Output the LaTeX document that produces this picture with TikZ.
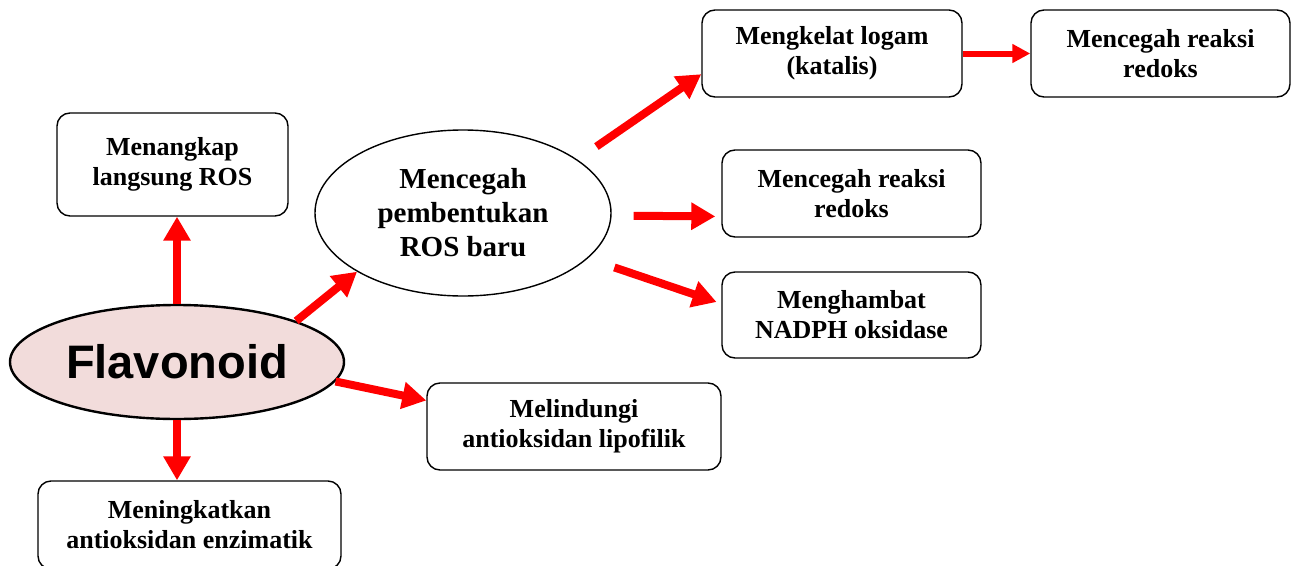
\documentclass[tikz,border=0pt]{standalone}
\usepackage{fontspec}
\setmainfont{Liberation Serif}
\newfontfamily\flfont{Liberation Sans}
\usetikzlibrary{shapes.geometric,arrows.meta}
\definecolor{flpink}{HTML}{F2DCDB}
\begin{document}
\begin{tikzpicture}[x=1pt,y=-1pt,
  box/.style={draw,line width=1.4pt,rounded corners=13pt,align=center,inner sep=0pt,
    font=\fontsize{26}{30}\selectfont\bfseries},
  redarrow/.style={draw=red,line width=8pt,-{Triangle[length=24pt,width=26pt]},red},
  smallarrow/.style={draw=red,line width=6pt,-{Triangle[length=18pt,width=18pt]},red},
]
\useasboundingbox (0,0) rectangle (1296,565);
% nodes
\node[draw,ellipse,line width=2.4pt,fill=flpink,minimum width=334pt,minimum height=114pt,
  inner sep=0pt,font=\flfont\fontsize{47}{50}\selectfont\bfseries] (fl) at (177,362) {Flavonoid};
\node[draw,ellipse,line width=1.4pt,minimum width=296pt,minimum height=166pt,inner sep=0pt,
  align=center,font=\fontsize{29}{34}\selectfont\bfseries] (ros) at (463,213)
  {Mencegah\\pembentukan\\ROS baru};
\node[box,minimum width=231pt,minimum height=103pt] (m1) at (172.5,164.5) {Menangkap\\langsung ROS};
\node[box,minimum width=303pt,minimum height=88pt] (m2) at (189.5,525) {Meningkatkan\\antioksidan enzimatik};
\node[box,minimum width=294pt,minimum height=87pt] (mel) at (574,426.5) {Melindungi\\antioksidan lipofilik};
\node[box,minimum width=260pt,minimum height=87pt] (mk) at (832,53.5) {Mengkelat logam\\(katalis)};
\node[box,minimum width=259pt,minimum height=87pt] (mc1) at (1160.5,53.5) {Mencegah reaksi\\redoks};
\node[box,minimum width=259pt,minimum height=87pt] (mc2) at (851.5,193.5) {Mencegah reaksi\\redoks};
\node[box,minimum width=259pt,minimum height=86pt] (nad) at (851.5,315) {Menghambat\\NADPH oksidase};
% connectors
\draw[redarrow] (fl.north) -- (fl.north |- m1.south);
\draw[redarrow] (fl.south) -- (fl.south |- m2.north);
\draw[redarrow] (fl.19) -- (ros.209);
\draw[redarrow] (fl.-7) -- (mel.170.5);
\draw[redarrow,shorten <=23pt] (ros.25.2) -- (mk.189.4);
\draw[redarrow,shorten <=22pt,shorten >=6pt] (ros.-1.3) -- (mc2.190.3);
\draw[redarrow,shorten <=28pt,shorten >=5pt] (ros.-20.9) -- (nad.175.6);
\draw[smallarrow] (mk.east) -- (mc1.west);
\end{tikzpicture}
\end{document}
